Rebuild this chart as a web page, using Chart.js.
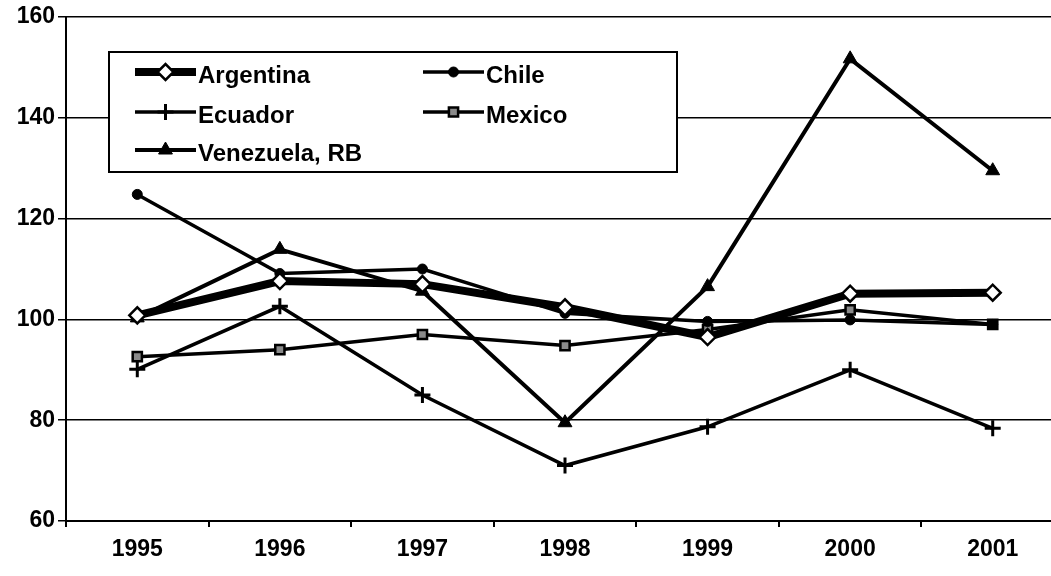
<!DOCTYPE html>
<html>
<head>
<meta charset="utf-8">
<script src="https://cdn.jsdelivr.net/npm/chart.js@4/dist/chart.umd.min.js"></script>
<style>
html,body{margin:0;padding:0;background:#fff;overflow:hidden;width:1051px;height:576px;}
#wrap{width:1075px;height:576px;}
</style>
</head>
<body>
<div id="wrap"><canvas id="c" width="1075" height="576"></canvas></div>
<script>
const years = ['1995', '1996', '1997', '1998', '1999', '2000', '2001'];
const argentina = [100.8, 107.6, 107.0, 102.4, 96.5, 105.1, 105.3];
const chile = [124.8, 109.1, 110.0, 101.2, 99.6, 99.9, 99.0];
const ecuador = [90.1, 102.6, 85.0, 71.0, 78.7, 90.0, 78.4];
const mexico = [92.6, 94.0, 97.0, 94.8, 98.0, 101.9, 99.0];
const venezuela = [100.3, 113.9, 105.6, 79.5, 106.5, 151.7, 129.5];
const seriesNames = ['Argentina', 'Chile', 'Ecuador', 'Mexico', 'Venezuela, RB'];

const FONT = "'Liberation Sans', Arial, sans-serif";

const legendPlugin = {
  id: 'boxLegend',
  afterDraw(chart) {
    const ctx = chart.ctx;
    ctx.save();
    ctx.fillStyle = '#fff';
    ctx.strokeStyle = '#000';
    ctx.lineWidth = 2;
    ctx.fillRect(109, 52, 568, 120);
    ctx.strokeRect(109, 52, 568, 120);
    const pos = [
      {x: 135, y: 72}, {x: 423, y: 72},
      {x: 135, y: 112}, {x: 423, y: 112},
      {x: 135, y: 150}
    ];
    chart.data.datasets.forEach((ds, i) => {
      const p = pos[i];
      const len = 61;
      ctx.strokeStyle = '#000';
      ctx.lineWidth = ds.borderWidth;
      ctx.beginPath();
      ctx.moveTo(p.x, p.y);
      ctx.lineTo(p.x + len, p.y);
      ctx.stroke();
      ctx.fillStyle = ds.pointBackgroundColor;
      ctx.strokeStyle = '#000';
      ctx.lineWidth = ds.pointBorderWidth;
      Chart.helpers.drawPoint(ctx, {
        pointStyle: ds.pointStyle,
        radius: ds.pointRadius,
        borderWidth: ds.pointBorderWidth,
        rotation: 0
      }, p.x + len / 2, p.y);
      ctx.fillStyle = '#000';
      ctx.font = "bold 24px " + FONT;
      ctx.textBaseline = 'middle';
      ctx.textAlign = 'left';
      ctx.fillText(ds.label, p.x + len + 2, p.y + 4);
    });
    ctx.restore();
  }
};

const mk = (label, data, opts) => Object.assign({
  label, data,
  borderColor: '#000',
  pointBorderColor: '#000',
  pointHoverRadius: 0,
  tension: 0,
  fill: false
}, opts);

new Chart(document.getElementById('c'), {
  type: 'line',
  data: {
    labels: years,
    datasets: [
      mk(seriesNames[0], argentina, {borderWidth: 8, pointStyle: 'rectRot', pointRadius: 8, pointBorderWidth: 2.5, pointBackgroundColor: '#fff'}),
      mk(seriesNames[1], chile, {borderWidth: 3.5, pointStyle: 'circle', pointRadius: 5, pointBorderWidth: 1, pointBackgroundColor: '#000'}),
      mk(seriesNames[2], ecuador, {borderWidth: 3.5, pointStyle: 'cross', pointRadius: 8, pointBorderWidth: 3, pointBackgroundColor: '#000'}),
      mk(seriesNames[3], mexico, {borderWidth: 3.5, pointStyle: 'rect', pointRadius: 6.5, pointBorderWidth: 2.5, pointBackgroundColor: '#8a8a8a'}),
      mk(seriesNames[4], venezuela, {borderWidth: 4, pointStyle: 'triangle', pointRadius: 8, pointBorderWidth: 1, pointBackgroundColor: '#000'})
    ]
  },
  options: {
    responsive: false,
    animation: false,
    events: [],
    layout: {padding: {top: 17, right: 0, left: 0, bottom: 0}},
    plugins: {legend: {display: false}, tooltip: {enabled: false}, title: {display: false}},
    scales: {
      x: {
        offset: true,
        grid: {offset: true, drawOnChartArea: false, drawTicks: true, tickLength: 6, color: '#000', lineWidth: 2},
        border: {color: '#000', width: 2},
        ticks: {color: '#000', font: {family: FONT, size: 23, weight: 'bold'}, padding: 9, maxRotation: 0},
        afterFit(s) { s.height = 55; }
      },
      y: {
        min: 60, max: 160,
        grid: {color: '#000', lineWidth: 1.5, tickLength: 8},
        border: {color: '#000', width: 2},
        ticks: {stepSize: 20, color: '#000', font: {family: FONT, size: 23, weight: 'bold'}, padding: 3},
        afterFit(s) { s.width = 66; }
      }
    }
  },
  plugins: [legendPlugin]
});
</script>
</body>
</html>
